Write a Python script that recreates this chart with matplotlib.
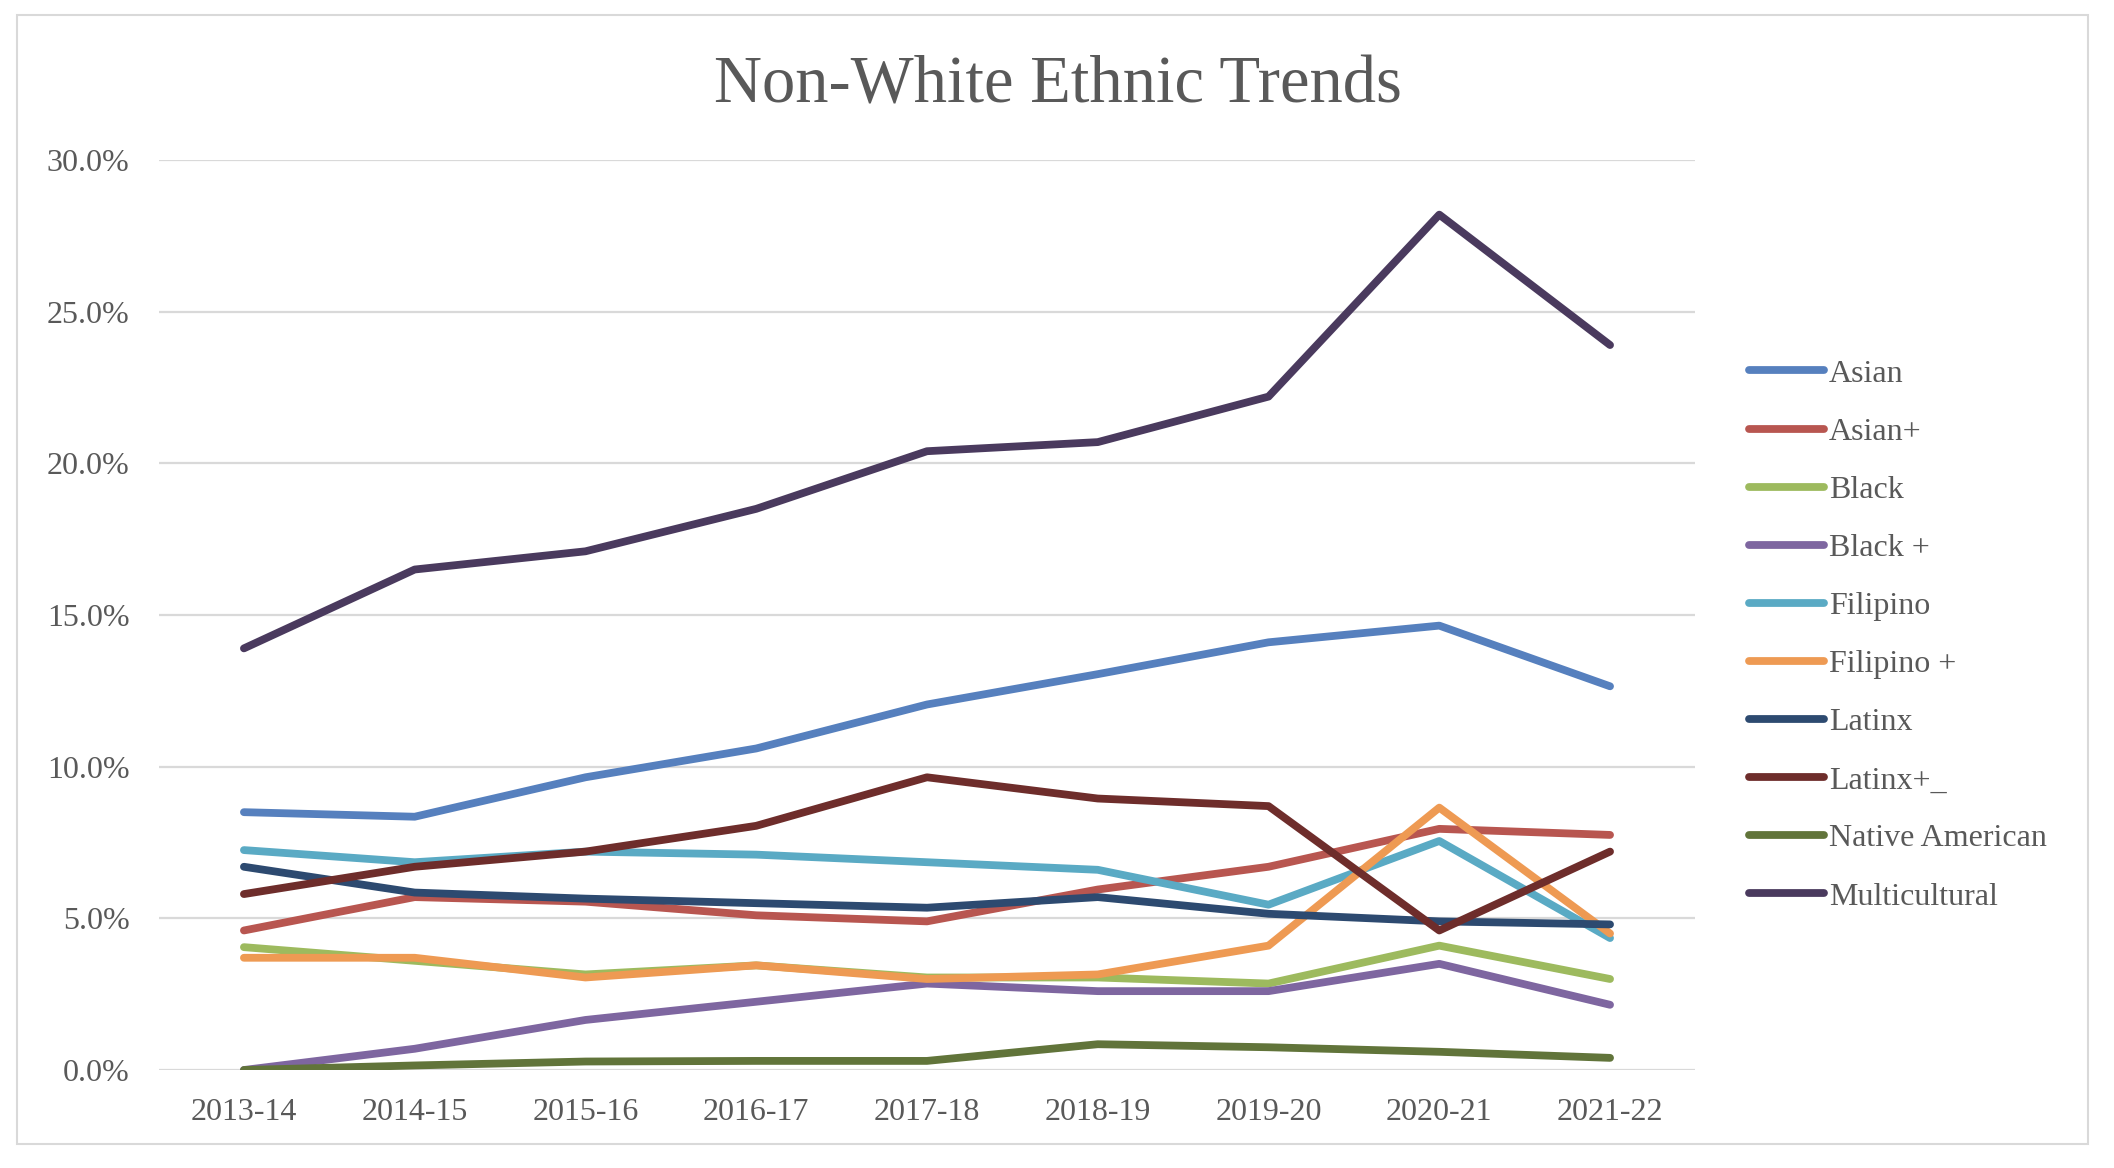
import matplotlib
matplotlib.use('Agg')
import matplotlib.pyplot as plt
from matplotlib.patches import Rectangle
from matplotlib.ticker import FuncFormatter

years = ['2013-14', '2014-15', '2015-16', '2016-17', '2017-18',
         '2018-19', '2019-20', '2020-21', '2021-22']

# percent values
asian        = [8.50, 8.35, 9.65, 10.60, 12.05, 13.05, 14.10, 14.65, 12.65]
asian_plus   = [4.60, 5.70, 5.55, 5.10, 4.90, 5.95, 6.70, 7.95, 7.75]
black        = [4.05, 3.60, 3.15, 3.45, 3.05, 3.05, 2.85, 4.10, 3.00]
black_plus   = [0.00, 0.70, 1.65, 2.25, 2.85, 2.60, 2.60, 3.50, 2.15]
filipino     = [7.25, 6.85, 7.20, 7.10, 6.85, 6.60, 5.45, 7.55, 4.35]
filipino_plus = [3.70, 3.70, 3.05, 3.45, 3.00, 3.15, 4.10, 8.65, 4.50]
latinx       = [6.70, 5.85, 5.65, 5.50, 5.35, 5.70, 5.15, 4.90, 4.80]
latinx_plus  = [5.80, 6.70, 7.20, 8.05, 9.65, 8.95, 8.70, 4.60, 7.20]
native_am    = [0.00, 0.15, 0.28, 0.30, 0.30, 0.85, 0.75, 0.60, 0.40]
multicult    = [13.90, 16.50, 17.10, 18.50, 20.40, 20.70, 22.20, 28.20, 23.90]

series = [
    ('Asian', asian, '#5680BE'),
    ('Asian+', asian_plus, '#B85650'),
    ('Black', black, '#9DBA5E'),
    ('Black +', black_plus, '#7E66A0'),
    ('Filipino', filipino, '#5AAAC4'),
    ('Filipino +', filipino_plus, '#EE9A53'),
    ('Latinx', latinx, '#2D4A70'),
    ('Latinx+_', latinx_plus, '#6E2D2B'),
    ('Native American', native_am, '#61743A'),
    ('Multicultural', multicult, '#4A3A5E'),
]

txt = '#595959'
plt.rcParams['font.family'] = ['Liberation Serif', 'DejaVu Serif']

fig = plt.figure(figsize=(21.14, 11.68), dpi=100)
fig.patches.append(Rectangle((17/2114, 1 - 1144/1168), (2088-17)/2114, (1144-15)/1168,
                             transform=fig.transFigure, fill=False,
                             edgecolor='#D9D9D9', linewidth=1.5))

ax = fig.add_axes([0.075, 0.0839, 0.727, 0.7791])
x = list(range(len(years)))
for name, vals, col in series:
    ax.plot(x, [v / 100 for v in vals], color=col, linewidth=5.6,
            solid_capstyle='round', solid_joinstyle='round', label=name)

ax.set_xlim(-0.5, len(years) - 0.5)
ax.set_ylim(0, 0.30)
ax.set_yticks([0, 0.05, 0.10, 0.15, 0.20, 0.25, 0.30])
ax.yaxis.set_major_formatter(FuncFormatter(lambda v, p: f'{v*100:.1f}%'))
ax.set_xticks(x)
ax.set_xticklabels(years)
ax.grid(axis='y', color='#D9D9D9', linewidth=1.6)
ax.set_axisbelow(True)
for s in ax.spines.values():
    s.set_visible(False)
ax.tick_params(axis='both', length=0, labelsize=23, colors=txt)
ax.tick_params(axis='y', pad=21)
ax.tick_params(axis='x', pad=20)

fig.text(0.5005, 0.926, 'Non-White Ethnic Trends', ha='center', va='center',
         fontsize=48, color=txt)

leg = ax.legend(loc='center left', bbox_to_anchor=(0.8275, 0.456),
                bbox_transform=fig.transFigure, frameon=False, fontsize=23,
                handlelength=2.35, handletextpad=0.15, labelspacing=0.9,
                borderpad=0, borderaxespad=0)
for t in leg.get_texts():
    t.set_color(txt)

fig.savefig('out.png', dpi=100)
